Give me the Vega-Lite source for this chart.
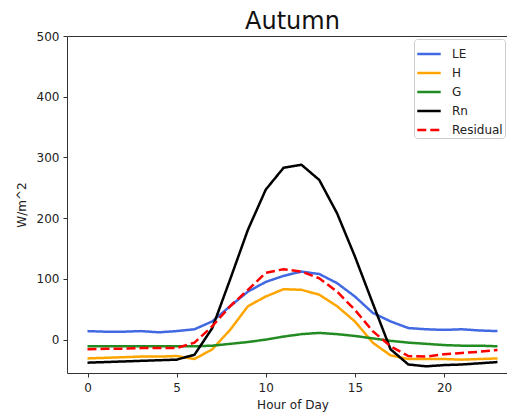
{
  "$schema": "https://vega.github.io/schema/vega-lite/v6.json",
  "autosize": {"type": "none"},
  "padding": {"left": 67, "top": 36, "right": 0, "bottom": 40},
  "width": 451,
  "height": 337,
  "background": "white",
  "title": {"text": "Autumn", "fontSize": 24, "font": "DejaVu Sans", "fontWeight": "normal", "color": "#111", "offset": -4},
  "config": {
    "view": {"stroke": "#333", "strokeWidth": 1},
    "font": "DejaVu Sans",
    "axis": {"grid": false, "domain": false, "tickColor": "#333", "tickSize": 4, "labelFontSize": 12, "labelColor": "#222", "titleFontSize": 12, "titleColor": "#222", "titleFontWeight": "normal", "labelFont": "DejaVu Sans", "titleFont": "DejaVu Sans"}
  },
  "data": {"values": [
    {"hour": 0, "LE": 14, "H": -31, "G": -11, "Rn": -38, "Residual": -16},
    {"hour": 1, "LE": 13, "H": -30, "G": -11, "Rn": -37, "Residual": -15},
    {"hour": 2, "LE": 13, "H": -29, "G": -11, "Rn": -36, "Residual": -15},
    {"hour": 3, "LE": 14, "H": -28, "G": -11, "Rn": -35, "Residual": -14},
    {"hour": 4, "LE": 12, "H": -28, "G": -11, "Rn": -34, "Residual": -14},
    {"hour": 5, "LE": 14, "H": -27, "G": -11, "Rn": -33, "Residual": -14},
    {"hour": 6, "LE": 17, "H": -32, "G": -11, "Rn": -25, "Residual": -5},
    {"hour": 7, "LE": 30, "H": -16, "G": -10, "Rn": 19, "Residual": 22},
    {"hour": 8, "LE": 55, "H": 16, "G": -7, "Rn": 99, "Residual": 55},
    {"hour": 9, "LE": 79, "H": 55, "G": -4, "Rn": 181, "Residual": 82},
    {"hour": 10, "LE": 95, "H": 71, "G": 0, "Rn": 247, "Residual": 110},
    {"hour": 11, "LE": 105, "H": 83, "G": 5, "Rn": 283, "Residual": 116},
    {"hour": 12, "LE": 112, "H": 82, "G": 9, "Rn": 288, "Residual": 112},
    {"hour": 13, "LE": 108, "H": 74, "G": 11, "Rn": 263, "Residual": 101},
    {"hour": 14, "LE": 93, "H": 55, "G": 9, "Rn": 208, "Residual": 79},
    {"hour": 15, "LE": 71, "H": 30, "G": 6, "Rn": 137, "Residual": 49},
    {"hour": 16, "LE": 44, "H": -5, "G": 2, "Rn": 60, "Residual": 14},
    {"hour": 17, "LE": 30, "H": -26, "G": -2, "Rn": -16, "Residual": -11},
    {"hour": 18, "LE": 19, "H": -32, "G": -5, "Rn": -41, "Residual": -27},
    {"hour": 19, "LE": 17, "H": -32, "G": -7, "Rn": -44, "Residual": -28},
    {"hour": 20, "LE": 16, "H": -32, "G": -9, "Rn": -42, "Residual": -24},
    {"hour": 21, "LE": 17, "H": -33, "G": -10, "Rn": -41, "Residual": -22},
    {"hour": 22, "LE": 15, "H": -32, "G": -10, "Rn": -39, "Residual": -20},
    {"hour": 23, "LE": 14, "H": -31, "G": -11, "Rn": -37, "Residual": -17}
  ]},
  "transform": [{"fold": ["LE", "H", "G", "Rn", "Residual"], "as": ["variable", "value"]}],
  "mark": {"type": "line", "strokeWidth": 2.5, "clip": true},
  "encoding": {
    "x": {"field": "hour", "type": "quantitative", "scale": {"domain": [-1.15, 24.15], "nice": false, "zero": false}, "axis": {"values": [0, 5, 10, 15, 20], "title": "Hour of Day", "titlePadding": 6, "labelPadding": 5}},
    "y": {"field": "value", "type": "quantitative", "scale": {"domain": [-55, 500], "nice": false, "zero": false}, "axis": {"values": [0, 100, 200, 300, 400, 500], "title": "W/m^2", "titlePadding": 8, "labelPadding": 4}},
    "color": {"field": "variable", "type": "nominal", "title": null,
      "scale": {"domain": ["LE", "H", "G", "Rn", "Residual"], "range": ["#4169E1", "#FFA500", "#228B22", "#000000", "#FF0000"]},
      "legend": {"orient": "none", "legendX": 347, "legendY": 3, "fillColor": "white", "strokeColor": "#cccccc", "cornerRadius": 3, "padding": 2, "symbolType": "stroke", "symbolStrokeWidth": 2.5, "symbolSize": 550, "labelFontSize": 12, "labelColor": "#222", "labelOffset": 10, "rowPadding": 0}},
    "strokeDash": {"field": "variable", "type": "nominal", "title": null,
      "scale": {"domain": ["LE", "H", "G", "Rn", "Residual"], "range": [[1, 0], [1, 0], [1, 0], [1, 0], [9, 4]]}}
  }
}
